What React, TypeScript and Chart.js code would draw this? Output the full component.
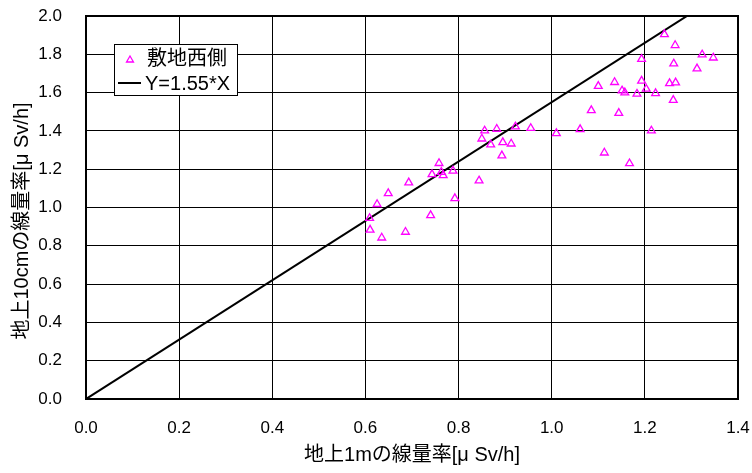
import { useEffect, useRef } from "react";
import { Chart, registerables } from "chart.js";

Chart.register(...registerables);

// ---- data ----
const seriesLabel = "敷地西側";
const lineLabel = "Y=1.55*X";
const xTitle = "地上1mの線量率[μ Sv/h]";
const yTitle = "地上10cmの線量率[μ Sv/h]";

const pointX = [
  0.609, 0.610, 0.635, 0.625, 0.649, 0.686, 0.693, 0.740, 0.743, 0.758, 0.763, 0.767, 0.788, 0.792,
  0.844, 0.850, 0.856, 0.869, 0.882, 0.893, 0.895, 0.913, 0.922, 0.955, 1.010,
  1.061, 1.085, 1.100, 1.113, 1.135, 1.144, 1.151, 1.157, 1.167, 1.183, 1.193, 1.203,
  1.242, 1.265, 1.323, 1.347, 1.262, 1.312, 1.193, 1.223, 1.253, 1.266, 1.261, 1.214,
];
const pointY = [
  0.944, 0.883, 0.842, 1.017, 1.074, 0.872, 1.130, 0.959, 1.173, 1.231, 1.185, 1.168, 1.191, 1.048,
  1.140, 1.359, 1.401, 1.328, 1.410, 1.271, 1.340, 1.333, 1.422, 1.414, 1.387,
  1.408, 1.507, 1.634, 1.286, 1.654, 1.493, 1.610, 1.600, 1.230, 1.593, 1.661, 1.619,
  1.904, 1.847, 1.798, 1.782, 1.751, 1.725, 1.775, 1.596, 1.648, 1.652, 1.561, 1.401,
];
const lineX = [0, 1.4];
const lineY = [0, 2.17];

const xMin = 0, xMax = 1.4, xStep = 0.2;
const yMin = 0, yMax = 2.0, yStep = 0.2;

const FONT = "'Liberation Sans', 'Noto Sans CJK JP', sans-serif";
const MAGENTA = "#FF00FF";

const framePlugin = {
  id: "frame",
  beforeDatasetsDraw(chart: any) {
    const { ctx, chartArea: a } = chart;
    ctx.save();
    ctx.strokeStyle = "#000";
    ctx.lineWidth = 2;
    ctx.strokeRect(a.left, a.top, a.right - a.left, a.bottom - a.top);
    ctx.restore();
  },
  afterDraw(chart: any) {
    const { ctx } = chart;
    ctx.save();
    // y title
    ctx.fillStyle = "#000";
    ctx.font = `20px ${FONT}`;
    ctx.textAlign = "center";
    ctx.textBaseline = "middle";
    ctx.translate(22, 221);
    ctx.rotate(-Math.PI / 2);
    ctx.fillText(yTitle, 0, 0);
    ctx.restore();

    // legend box
    ctx.save();
    const bx = 114.5, by = 44.5, bw = 123, bh = 51;
    ctx.fillStyle = "#fff";
    ctx.fillRect(bx, by, bw, bh);
    ctx.strokeStyle = "#000";
    ctx.lineWidth = 1;
    ctx.strokeRect(bx, by, bw, bh);
    // triangle marker
    const r = 4, cx = 130, cy = 60;
    ctx.strokeStyle = MAGENTA;
    ctx.lineWidth = 1.3;
    ctx.beginPath();
    ctx.moveTo(cx, cy - r);
    ctx.lineTo(cx + r * 0.866, cy + r * 0.5);
    ctx.lineTo(cx - r * 0.866, cy + r * 0.5);
    ctx.closePath();
    ctx.stroke();
    // line sample
    ctx.strokeStyle = "#000";
    ctx.lineWidth = 2;
    ctx.beginPath();
    ctx.moveTo(118, 83);
    ctx.lineTo(141, 83);
    ctx.stroke();
    ctx.fillStyle = "#000";
    ctx.font = `20px ${FONT}`;
    ctx.textAlign = "left";
    ctx.textBaseline = "middle";
    ctx.fillText(seriesLabel, 147, 59);
    ctx.fillText(lineLabel, 145, 84);
    ctx.restore();
  },
};

export default function App() {
  const ref = useRef<HTMLCanvasElement>(null);
  useEffect(() => {
    if (!ref.current) return;
    const chart = new Chart(ref.current, {
      type: "scatter",
      data: {
        datasets: [
          {
            type: "scatter",
            label: seriesLabel,
            data: pointX.map((x, i) => ({ x, y: pointY[i] })),
            pointStyle: "triangle",
            pointRadius: 4.5,
            borderColor: MAGENTA,
            backgroundColor: "rgba(255,255,255,0)",
            borderWidth: 1.3,
          },
          {
            type: "line",
            label: lineLabel,
            data: lineX.map((x, i) => ({ x, y: lineY[i] })),
            borderColor: "#000",
            borderWidth: 2,
            pointRadius: 0,
            fill: false,
          } as any,
        ],
      },
      options: {
        responsive: false,
        animation: false,
        layout: { padding: { top: 16, right: 14, left: 0, bottom: 0 } },
        plugins: { legend: { display: false }, tooltip: { enabled: false } },
        scales: {
          x: {
            type: "linear",
            min: xMin,
            max: xMax,
            ticks: {
              stepSize: xStep,
              callback: (v: any) => Number(v).toFixed(1),
              font: { size: 17, family: FONT },
              color: "#000",
              padding: 19,
              maxRotation: 0,
            },
            grid: { color: "#000", lineWidth: 1, drawTicks: false },
            border: { display: false },
            title: {
              display: true,
              text: xTitle,
              font: { size: 20, family: FONT },
              color: "#000",
              padding: { top: 0, bottom: 6 },
            },
            afterFit: (s: any) => {
              s.height = 74;
              s.paddingLeft = 0;
              s.paddingRight = 0;
            },
          },
          y: {
            type: "linear",
            min: yMin,
            max: yMax,
            ticks: {
              stepSize: yStep,
              callback: (v: any) => Number(v).toFixed(1),
              font: { size: 17, family: FONT },
              color: "#000",
              padding: 24,
            },
            grid: { color: "#000", lineWidth: 1, drawTicks: false },
            border: { display: false },
            afterFit: (s: any) => {
              s.width = 86;
              s.paddingTop = 0;
              s.paddingBottom = 0;
            },
          },
        },
      },
      plugins: [framePlugin],
    });
    return () => chart.destroy();
  }, []);
  return (
    <div style={{ position: "absolute", left: 0, top: 0, width: 752, height: 473, background: "#fff" }}>
      <canvas ref={ref} width={752} height={473} style={{ display: "block" }} />
    </div>
  );
}
